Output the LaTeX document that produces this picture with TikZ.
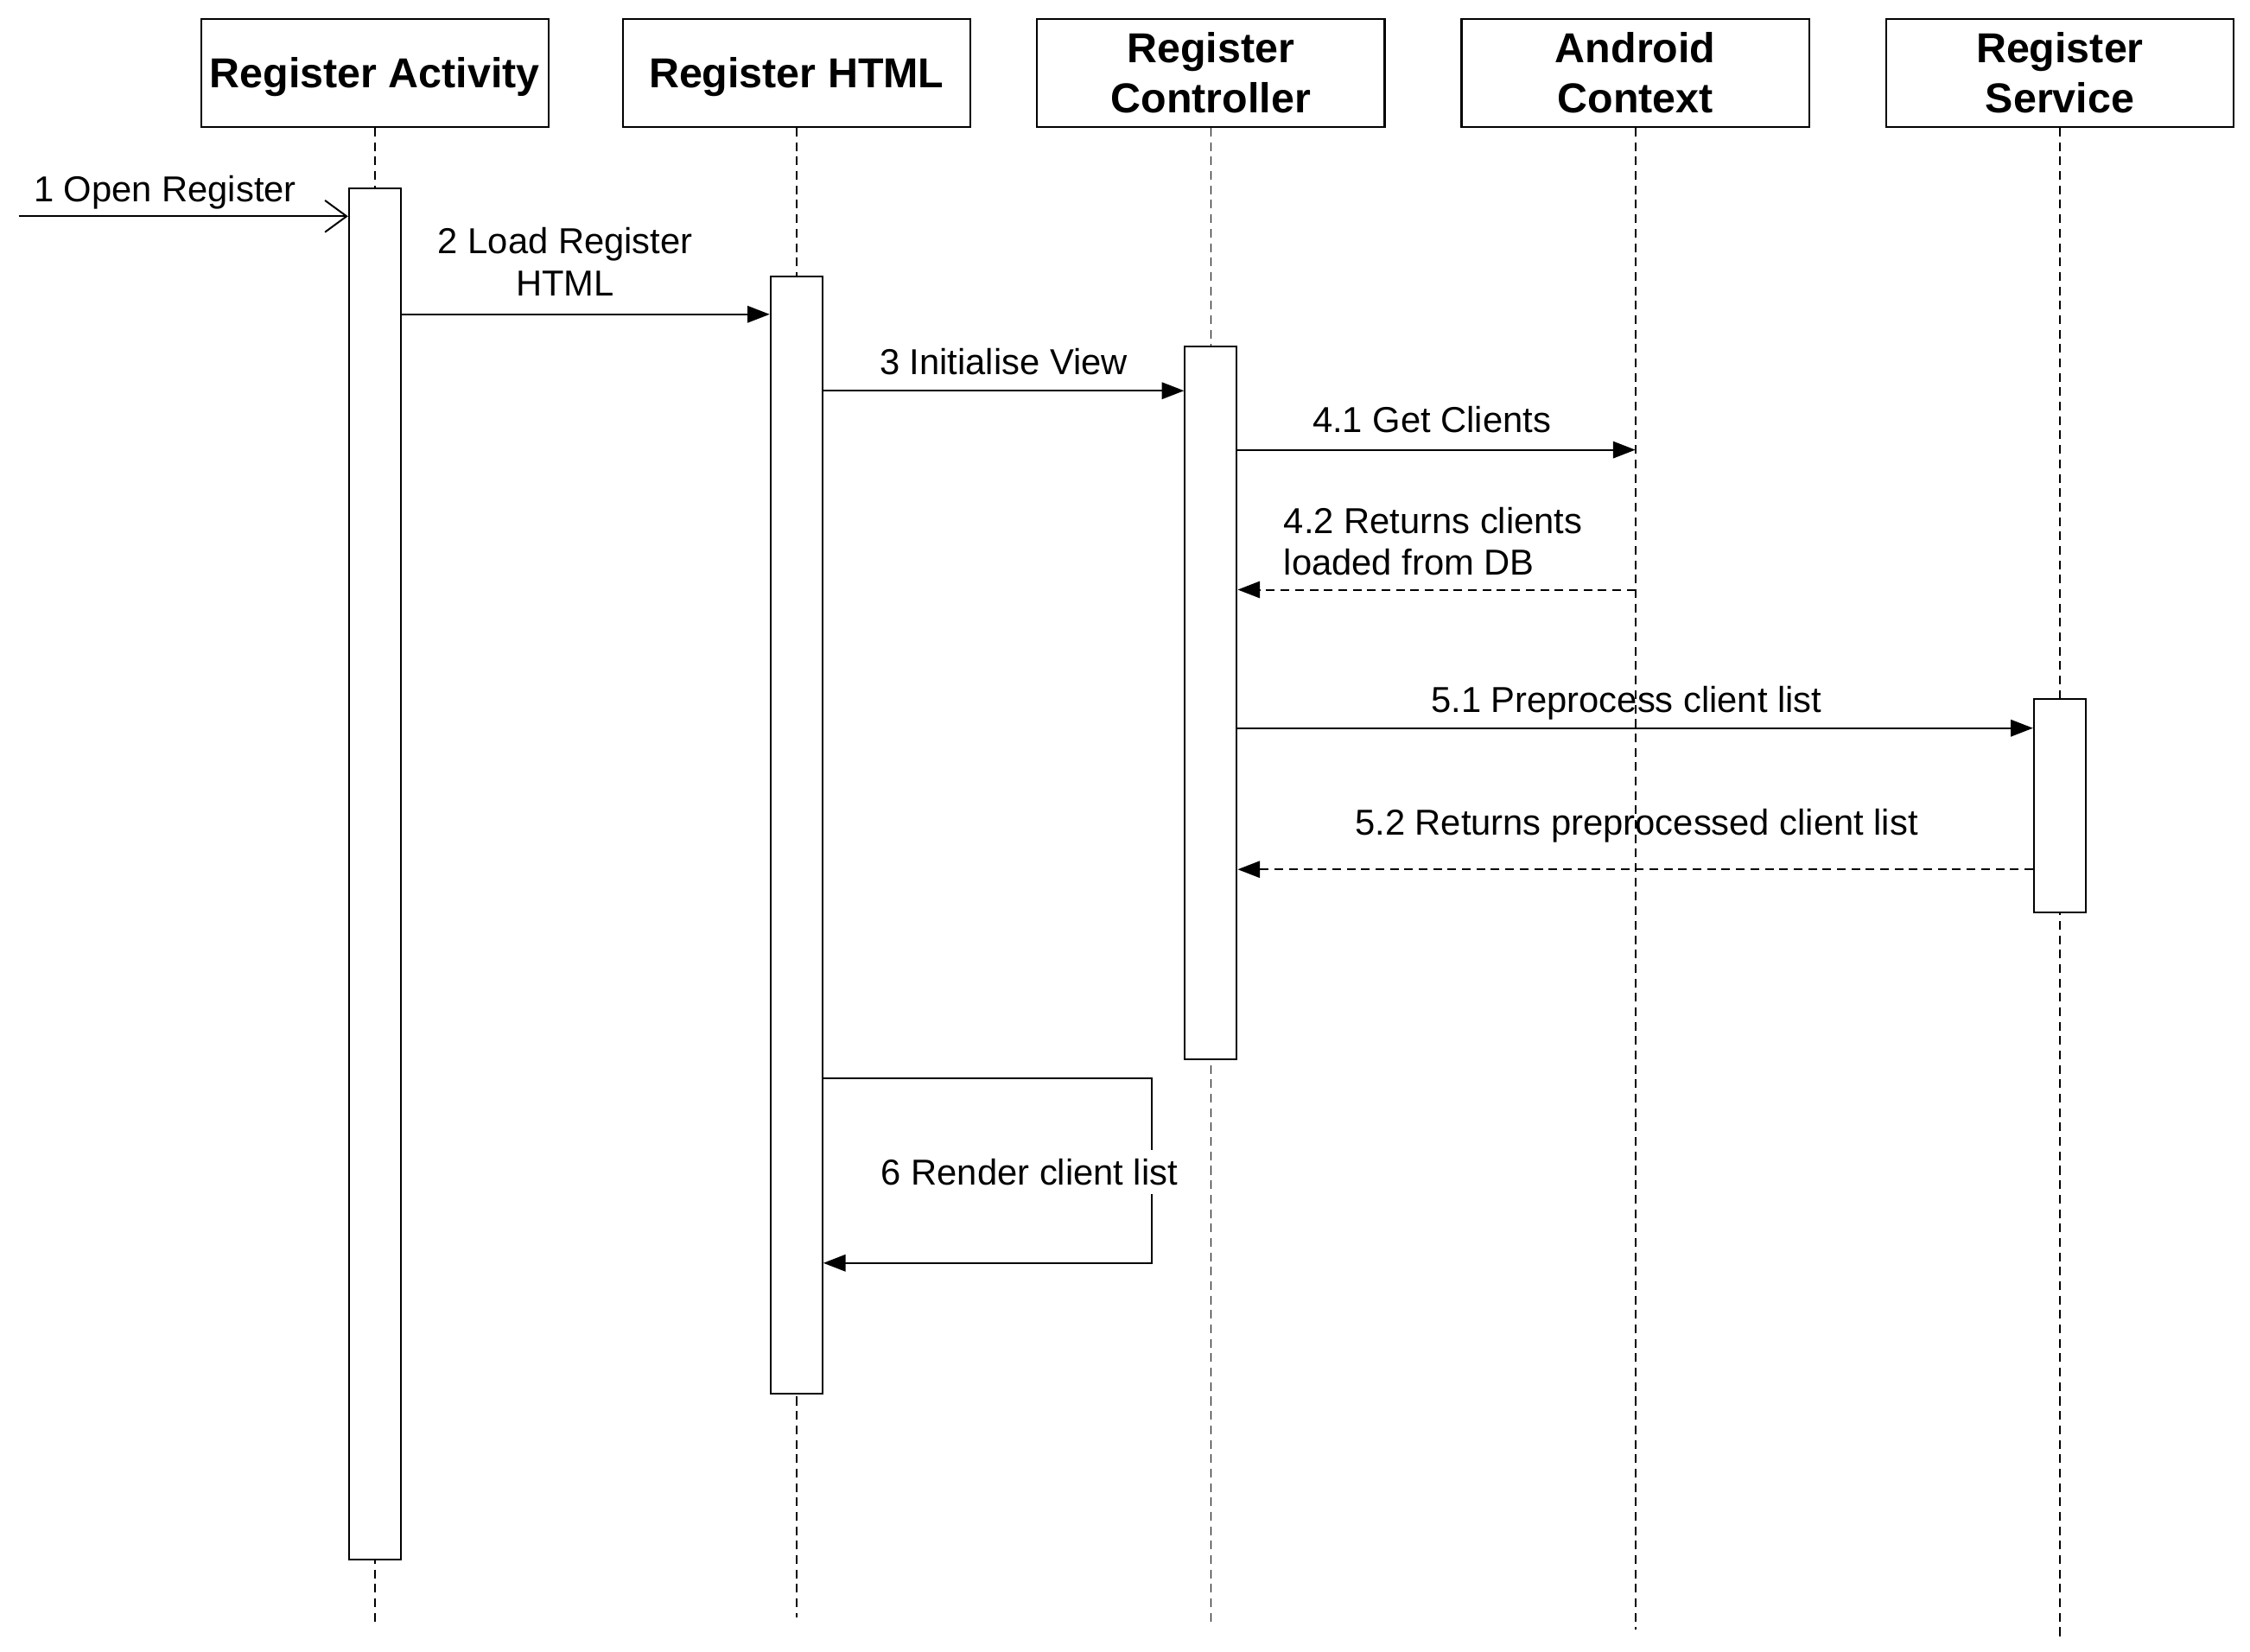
\documentclass[tikz,border=0pt]{standalone}
\usepackage{fontspec}
\setmainfont{Liberation Sans}
\usetikzlibrary{arrows.meta,positioning}

\begin{document}
\begin{tikzpicture}[x=0.5pt,y=-0.5pt,
        head/.style={rectangle, draw=black, line width=0.7pt, minimum width=120.5pt, minimum height=37.5pt,
        align=center, inner sep=0pt, font=\fontsize{14.5}{17.5}\selectfont\bfseries},
        act/.style={rectangle, draw=black, fill=white, line width=0.6pt, minimum width=18pt, anchor=north, inner sep=0pt},
        life/.style={draw=black, line width=0.5pt, dash pattern=on 3pt off 2pt},
        msg/.style={draw=black, line width=0.6pt, -{Triangle[length=7.7pt,width=5.8pt]}},
        reply/.style={msg, dash pattern=on 3pt off 2pt},
        found/.style={draw=black, line width=0.6pt, -{Straight Barb[length=7.5pt,width=11pt]}},
        lbl/.style={font=\fontsize{12.5}{14.5}\selectfont, inner sep=0pt, align=center}]
        \useasboundingbox (0,0) rectangle (1560.5,1145.6);

        % participants
        \node [head, text depth=0pt] (ra) at (260,50.5) {Register Activity};
        \node [head, text depth=0pt, right=25pt of ra] (rh) {Register HTML};
        \node [head, right=22.5pt of rh] (rc) {Register\\Controller};
        \node [head, right=26pt of rc] (ac) {Android\\Context};
        \node [head, right=26pt of ac] (rs) {Register\\Service};

        % lifelines
        \draw [life] (ra.south) -- (ra.south |- 0,1125);
        \draw [life] (rh.south) -- (rh.south |- 0,1122);
        \draw [life] (rc.south) -- (rc.south |- 0,1125);
        \draw [life] (ac.south) -- (ac.south |- 0,1130);
        \draw [life] (rs.south) -- (rs.south |- 0,1135);

        % activations
        \node [act, minimum height=475.5pt] (ara) at (ra.south |- 0,130) {};
        \node [act, minimum height=387.5pt] (arh) at (rh.south |- 0,191) {};
        \node [act, minimum height=247pt] (arc) at (rc.south |- 0,240) {};
        \node [act, minimum height=74pt] (ars) at (rs.south |- 0,484) {};

        % messages
        \coordinate (start) at (13,150);
        \draw [found] (start) -- (ara.west |- start);
        \node [lbl, anchor=base west] (l1) at (23,140) {1 Open Register};

        \draw [msg] (ara.east |- 0,218) -- (arh.west |- 0,218);
        \node [lbl, anchor=base] (l2) at (392,205) {2 Load Register\\HTML};

        \draw [msg] (arh.east |- 0,271) -- (arc.west |- 0,271);
        \node [lbl, anchor=base] (l3) at (696,260) {3 Initialise View};

        \draw [msg] (arc.east |- 0,312) -- (ac.south |- 0,312);
        \node [lbl, anchor=base] (l41) at (993,300) {4.1 Get Clients};

        \draw [reply] (ac.south |- 0,409) -- (arc.east |- 0,409);
        \node [lbl, anchor=base west, align=left] (l42) at (890,399) {4.2 Returns clients\\loaded from DB};

        \draw [msg] (arc.east |- 0,505) -- (ars.west |- 0,505);
        \node [lbl, anchor=base] (l51) at (1128,494) {5.1 Preprocess client list};

        \draw [reply] (ars.west |- 0,603) -- (arc.east |- 0,603);
        \node [lbl, anchor=base] (l52) at (1135,579) {5.2 Returns preprocessed client list};

        % self call
        \coordinate (loop) at (799,748);
        \draw [msg] (arh.east |- loop) -- (loop) -- (loop |- 0,876) -- (arh.east |- 0,876);
        \node [lbl, fill=white, inner ysep=3pt, anchor=base] (l6) at (714,822) {6 Render client list};
    \end{tikzpicture}
\end{document}
